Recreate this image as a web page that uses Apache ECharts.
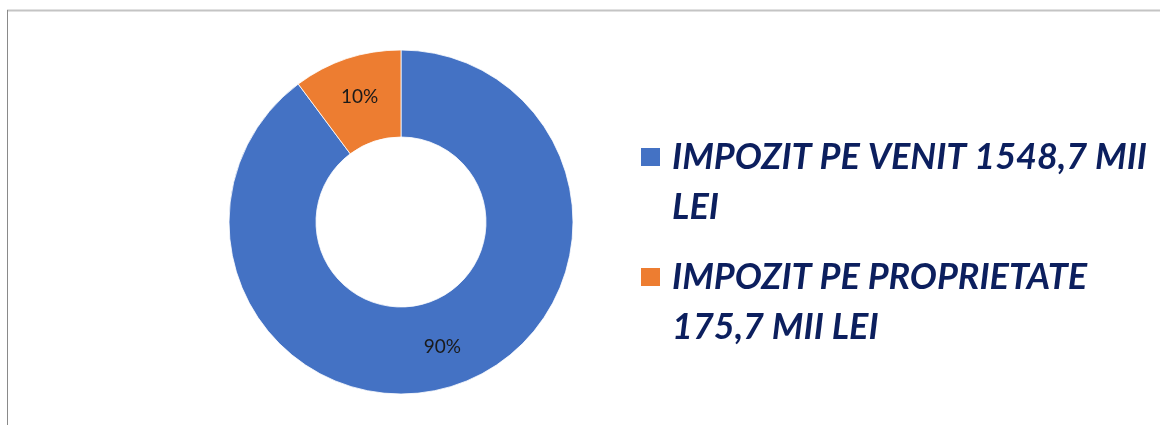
<!DOCTYPE html>
<html>
<head>
<meta charset="utf-8">
<script src="https://cdn.jsdelivr.net/npm/echarts@6/dist/echarts.min.js"></script>
<style>html,body{margin:0;padding:0;background:#fff;}#c{width:1160px;height:425px;}</style>
</head>
<body>
<div id="c"></div>
<script>
var categories = ['IMPOZIT PE VENIT 1548,7 MII\nLEI', 'IMPOZIT PE PROPRIETATE\n175,7 MII LEI'];
var values = [1548.7, 175.7];
var colors = ['#4472C4', '#ED7D31'];

var chart = echarts.init(document.getElementById('c'));
var LH = 50;
chart.setOption({
  animation: false,
  color: colors,
  graphic: [
    {type: 'line', shape: {x1: 7, y1: 10.5, x2: 1160, y2: 10.5}, style: {stroke: '#c4c4c4', lineWidth: 2}},
    {type: 'line', shape: {x1: 7.5, y1: 10, x2: 7.5, y2: 425}, style: {stroke: '#8a8a8a', lineWidth: 1}}
  ],
  legend: {
    orient: 'vertical',
    left: 639,
    top: 157 - 1.5 * LH,
    padding: 0,
    itemWidth: 21,
    itemHeight: 20,
    itemGap: 120 - 3 * LH,
    icon: 'rect',
    selectedMode: false,
    formatter: function (n) { return '\n' + n; },
    textStyle: {
      fontFamily: 'Lato',
      fontWeight: 'bold',
      fontStyle: 'italic',
      fontSize: 36,
      lineHeight: LH,
      color: '#0C1F5E',
      padding: [0, 0, 0, 6]
    },
    data: categories
  },
  series: [{
    type: 'pie',
    center: [401, 222],
    radius: [85, 172],
    startAngle: 90,
    clockwise: true,
    avoidLabelOverlap: false,
    itemStyle: {borderColor: '#ffffff', borderWidth: 0.8},
    label: {
      position: 'inside',
      formatter: function (p) { return Math.round(p.percent) + '%'; },
      fontFamily: 'Lato',
      fontSize: 19,
      color: '#1a1a1a'
    },
    labelLine: {show: false},
    emphasis: {disabled: true},
    data: categories.map(function (n, i) { return {name: n, value: values[i]}; })
  }]
});
</script>
</body>
</html>
